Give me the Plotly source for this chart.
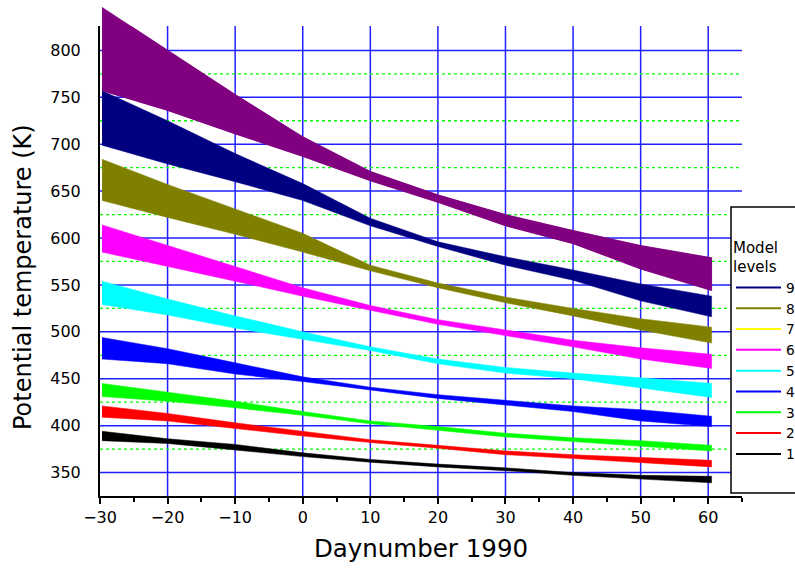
import plotly.graph_objects as go

# Day numbers (1990) at which the band limits are given
days = [-29.7, -20, -10, 0, 10, 20, 30, 40, 50, 60.5]

# Upper / lower potential temperature (K) of each model level band
lev10_hi = [846, 800, 753, 708, 671, 646, 625, 608, 592, 579]
lev10_lo = [757, 736, 711, 687, 661, 638, 613, 594, 567, 544]
lev9_hi = [757, 725, 690, 658, 621, 596, 580, 566, 551, 538]
lev9_lo = [699, 679, 660, 640, 613, 591, 571, 555, 533, 516]
lev8_hi = [684, 657, 631, 605, 571, 552, 537, 525, 514, 505]
lev8_lo = [640, 622, 604, 585, 565, 547, 531, 517, 502, 488]
lev6_hi = [614, 592, 569, 547, 528, 513, 502, 491, 483, 476]
lev6_lo = [585, 570, 554, 538, 523, 508, 496, 484, 471, 461]
lev5_hi = [554, 535, 517, 500, 484, 471, 462, 456, 451, 445]
lev5_lo = [529, 518, 504, 492, 480, 466, 456, 450, 440, 430]
lev4_hi = [494, 482, 467, 452, 441, 433, 427, 421, 417, 410]
lev4_lo = [471, 466, 455, 447, 438, 429, 422, 415, 405, 399]
lev3_hi = [445, 436, 426, 415, 405, 399, 392, 387, 384, 379]
lev3_lo = [431, 426, 419, 411, 402, 395, 388, 383, 378, 373]
lev2_hi = [421, 413, 403, 394, 385, 379, 373, 369, 366, 363]
lev2_lo = [409, 405, 397, 389, 382, 376, 369, 365, 361, 356]
lev1_hi = [394, 386, 380, 371, 364, 359, 355, 350, 347, 346]
lev1_lo = [384, 381, 374, 367, 361, 356, 352, 347, 343, 339]

# Legend entries
legend_levels = ["9", "8", "7", "6", "5", "4", "3", "2", "1"]
legend_colors = ["#000080", "#808000", "#ffff00", "#ff00ff", "#00ffff",
                 "#0000ff", "#00ff00", "#ff0000", "#000000"]

# Grid positions
grid_days = list(range(-20, 61, 10))
grid_temps = list(range(350, 801, 50))
minor_temps = list(range(375, 801, 50))

bands = [
    (lev10_hi, lev10_lo, "#800080"),
    (lev9_hi, lev9_lo, "#000080"),
    (lev8_hi, lev8_lo, "#808000"),
    (lev6_hi, lev6_lo, "#ff00ff"),
    (lev5_hi, lev5_lo, "#00ffff"),
    (lev4_hi, lev4_lo, "#0000ff"),
    (lev3_hi, lev3_lo, "#00ff00"),
    (lev2_hi, lev2_lo, "#ff0000"),
    (lev1_hi, lev1_lo, "#000000"),
]

X_RANGE = [-30, 65]
Y_RANGE = [325, 826]

# page geometry (px)
W, H = 795, 574
ML, MR, MT, MB = 100, 53, 0, 78
PAPER_W = W - ML - MR
PAPER_H = H - MT - MB
FRAME_T = 26


def px_x(px):
    return (px - ML) / PAPER_W


def px_y(py):
    return (PAPER_H + MT - py) / PAPER_H


Y_DOMAIN = [0, px_y(FRAME_T)]
# taller axis for the part of a band rising above the frame
Y_TOP_FULL = Y_RANGE[0] + (Y_RANGE[1] - Y_RANGE[0]) * PAPER_H / (PAPER_H - FRAME_T)

FONT = "DejaVu Sans"
GRID_BLUE = "#2020ff"


def segments(pairs):
    """Join (x0, y0, x1, y1) segments into one broken polyline."""
    xs, ys = [], []
    for x0, y0, x1, y1 in pairs:
        xs += [x0, x1, None]
        ys += [y0, y1, None]
    return xs, ys


fig = go.Figure()

# grid, drawn first so the bands cover it
gx, gy = segments([(d, Y_RANGE[0], d, Y_RANGE[1]) for d in grid_days] +
                  [(X_RANGE[0], t, X_RANGE[1], t) for t in grid_temps])
fig.add_trace(go.Scatter(x=gx, y=gy, mode="lines", line=dict(color=GRID_BLUE, width=1.5),
                         showlegend=False, hoverinfo="skip"))
mx, my = segments([(X_RANGE[0], t, X_RANGE[1], t) for t in minor_temps])
fig.add_trace(go.Scatter(x=mx, y=my, mode="lines",
                         line=dict(color="#00ff00", width=1.3, dash="dot"),
                         showlegend=False, hoverinfo="skip"))

# filled bands
for hi, lo, color in bands:
    fig.add_trace(go.Scatter(
        x=days + days[::-1], y=hi + lo[::-1],
        fill="toself", fillcolor=color, mode="lines",
        line=dict(color=color, width=0.5),
        showlegend=False, hoverinfo="skip"))

# the top band again on taller axes, so its start shows above the frame
hi, lo, color = bands[0]
fig.add_trace(go.Scatter(
    x=days + days[::-1], y=hi + lo[::-1],
    fill="toself", fillcolor=color, mode="lines",
    line=dict(color=color, width=0.5),
    showlegend=False, hoverinfo="skip", xaxis="x2", yaxis="y2"))

# legend-only line entries
for name, color in zip(legend_levels, legend_colors):
    fig.add_trace(go.Scatter(x=[None], y=[None], mode="lines", name=name,
                             line=dict(color=color, width=2)))

frame_common = dict(zeroline=False, showgrid=False,
                    showline=True, linecolor="black", linewidth=2)
minor_y = dict(dtick=25, tick0=325, tickcolor="black", tickwidth=1.5, showgrid=False)
minor_x = dict(dtick=5, tick0=-30, tickcolor="black", tickwidth=1.5, showgrid=False)

fig.update_layout(
    width=W, height=H,
    margin=dict(l=ML, r=MR, t=MT, b=MB, autoexpand=False),
    paper_bgcolor="white", plot_bgcolor="rgba(0,0,0,0)",
    font=dict(family=FONT, color="black"),
    showlegend=True,
    xaxis=dict(
        domain=[0, 1], anchor="y", range=X_RANGE,
        tick0=-30, dtick=10, ticks="outside", ticklen=6,
        tickcolor="black", tickwidth=1.5,
        tickfont=dict(size=16, family=FONT),
        title=dict(text="Daynumber 1990", font=dict(size=24.5, family=FONT), standoff=14),
        minor=dict(ticks="outside", ticklen=4, **minor_x),
        **frame_common),
    # left axis: labels only (ticks kept clear so labels sit off the frame)
    yaxis=dict(
        domain=Y_DOMAIN, anchor="x", range=Y_RANGE,
        tick0=350, dtick=50, ticks="outside", ticklen=14,
        tickcolor="rgba(0,0,0,0)", tickwidth=1,
        tickfont=dict(size=16, family=FONT),
        **frame_common),
    # left axis ticks
    yaxis4=dict(
        overlaying="y", anchor="x", side="left", range=Y_RANGE,
        tick0=350, dtick=50, ticks="outside", ticklen=5,
        tickcolor="black", tickwidth=1.5, showticklabels=False,
        minor=dict(ticks="outside", ticklen=3, **minor_y),
        **frame_common),
    # mirrored top and right axes with inward ticks
    xaxis3=dict(
        overlaying="x", anchor="y", side="top", range=X_RANGE,
        tick0=-30, dtick=10, ticks="inside", ticklen=9,
        tickcolor="black", tickwidth=1.5, showticklabels=False,
        minor=dict(ticks="inside", ticklen=6, **minor_x),
        **frame_common),
    yaxis3=dict(
        overlaying="y", anchor="x", side="right", range=Y_RANGE,
        tick0=350, dtick=50, ticks="inside", ticklen=8,
        tickcolor="black", tickwidth=1.5, showticklabels=False,
        minor=dict(ticks="inside", ticklen=5, **minor_y),
        **frame_common),
    # taller invisible axes
    xaxis2=dict(domain=[0, 1], anchor="y2", range=X_RANGE, visible=False),
    yaxis2=dict(domain=[0, 1], anchor="x2", range=[Y_RANGE[0], Y_TOP_FULL], visible=False),
    annotations=[dict(text="Potential temperature (K)", textangle=-90,
                      xref="paper", yref="paper", x=px_x(23), y=px_y(277),
                      xanchor="center", yanchor="middle", showarrow=False,
                      font=dict(size=24, family=FONT, color="black"))],
    legend=dict(
        x=px_x(731), y=px_y(233), xanchor="left", yanchor="top",
        bgcolor="rgba(0,0,0,0)", borderwidth=0,
        font=dict(size=13.7, family=FONT, color="black"),
        title=dict(text="Model<br>levels", font=dict(size=15, family=FONT)),
        itemwidth=45, tracegroupgap=0),
    shapes=[
        # legend box
        dict(type="rect", xref="paper", yref="paper", layer="above",
             x0=px_x(731), x1=px_x(810), y0=px_y(493), y1=px_y(207),
             fillcolor="white", line=dict(color="black", width=1.5)),
    ],
)

fig.write_html("out.html")
